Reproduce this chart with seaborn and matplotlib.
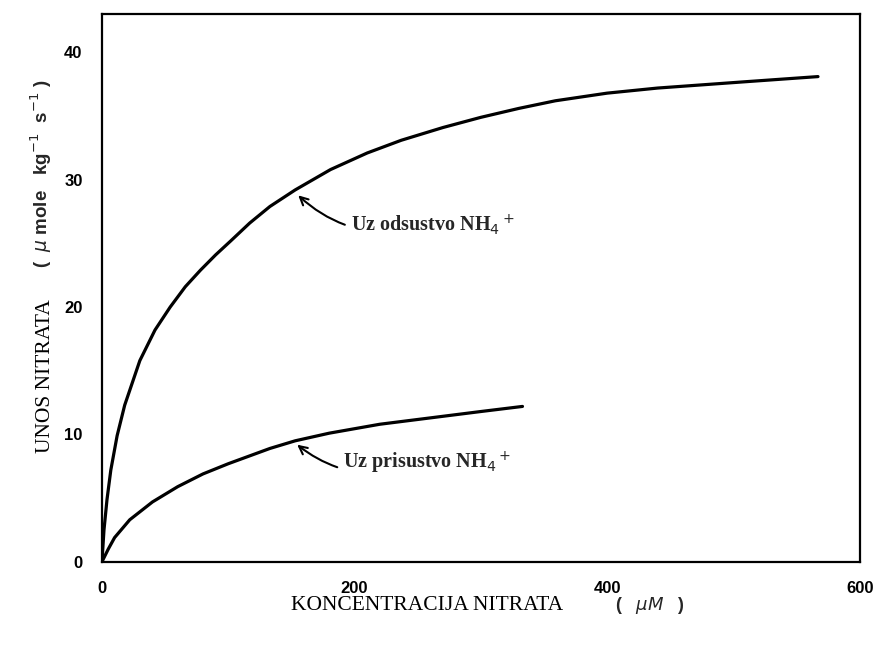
import matplotlib
matplotlib.use("Agg")
import matplotlib.pyplot as plt
import seaborn as sns
import pandas as pd

# values
conc_without = [0, 1.6, 4, 7, 12, 18, 30, 42, 54, 66, 78, 90, 102, 117, 133, 153, 181, 210,
                237, 270, 300, 330, 359, 400, 440, 468, 510, 567]
uptake_without = [0, 2.5, 4.9, 7.2, 9.9, 12.3, 15.8, 18.2, 20.0, 21.6, 22.9, 24.1, 25.2, 26.6,
                  27.9, 29.2, 30.8, 32.1, 33.1, 34.1, 34.9, 35.6, 36.2, 36.8, 37.2, 37.4, 37.7, 38.1]
conc_with = [0, 5, 10, 22, 40, 60, 80, 100, 133, 153, 180, 220, 260, 300, 333]
uptake_with = [0, 1.0, 1.9, 3.3, 4.7, 5.9, 6.9, 7.7, 8.9, 9.5, 10.1, 10.8, 11.3, 11.8, 12.2]
x_ticks = [0, 200, 400, 600]
y_ticks = [0, 10, 20, 30, 40]
label_without = "Uz odsustvo NH$_4$$^+$"
label_with = "Uz prisustvo NH$_4$$^+$"

data = pd.DataFrame({
    "conc": conc_without + conc_with,
    "uptake": uptake_without + uptake_with,
    "series": ["without"] * len(conc_without) + ["with"] * len(conc_with),
})

sns.set_style("white")
fig = plt.figure(figsize=(8.79, 6.45), dpi=100)
ax = fig.add_axes([0.116, 0.129, 0.862, 0.849])

sns.lineplot(data=data, x="conc", y="uptake", units="series", estimator=None,
             sort=False, color="black", linewidth=2.3, ax=ax,
             solid_joinstyle="round", solid_capstyle="round")

ax.set_xlim(0, 600)
ax.set_ylim(0, 43)
ax.set_xticks(x_ticks)
ax.set_yticks(y_ticks)
ax.set_xticklabels([str(v) for v in x_ticks], fontsize=12, fontweight="bold", family="Liberation Sans")
ax.set_yticklabels([str(v) for v in y_ticks], fontsize=12, fontweight="bold", family="Liberation Sans")
ax.tick_params(axis="both", direction="in", length=8, width=1.5, colors="black")
ax.tick_params(axis="x", pad=14)
ax.tick_params(axis="y", pad=14)
for s in ax.spines.values():
    s.set_color("black")
    s.set_linewidth(1.6)
ax.set_xlabel("")
ax.set_ylabel("")

# axis titles
fig.text(0.486, 0.062, "KONCENTRACIJA NITRATA", fontsize=15.5, family="Liberation Serif",
         color="black", ha="center", va="center")
fig.text(0.74, 0.062, "(   $\\mu$$\\it{M}$   )", fontsize=13, family="Liberation Sans",
         fontweight="bold", ha="center", va="center")
fig.text(0.052, 0.417, "UNOS NITRATA", fontsize=15.5, family="Liberation Serif",
         color="black", rotation=90, ha="center", va="center")
fig.text(0.047, 0.73, "(  $\\mu$ mole   kg$^{-1}$  s$^{-1}$ )", fontsize=13.5,
         family="Liberation Sans", fontweight="bold", rotation=90, ha="center", va="center")

# curve labels with curved arrows
ax.annotate(label_without, xy=(153, 29.0), xytext=(197, 26.5), fontsize=14.5,
            family="Liberation Serif", fontweight="bold", va="center",
            arrowprops=dict(arrowstyle="->", color="black", lw=1.5,
                            connectionstyle="arc3,rad=-0.3", shrinkA=2, shrinkB=3))
ax.annotate(label_with, xy=(152, 9.4), xytext=(191, 7.8), fontsize=14.5,
            family="Liberation Serif", fontweight="bold", va="center",
            arrowprops=dict(arrowstyle="->", color="black", lw=1.5,
                            connectionstyle="arc3,rad=-0.3", shrinkA=2, shrinkB=3))

fig.savefig("out.png", dpi=100)
